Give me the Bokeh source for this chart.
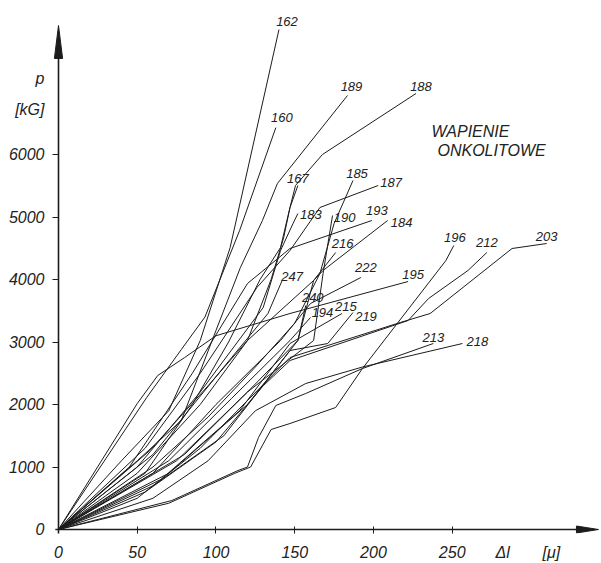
from bokeh.plotting import figure
from bokeh.models import Range1d, FixedTicker
from bokeh.embed import file_html
from bokeh.resources import INLINE
from bokeh.core.properties import value

# ---- data (Δl in μ, p in kG) ----
x162 = [0, 40, 70, 90, 109, 140]
y162 = [0, 1100, 1900, 3024, 4512, 8000]
x160 = [0, 56, 78, 93, 115, 138]
y160 = [0, 2112, 2880, 3400, 4784, 6430]
x189 = [0, 50, 78, 100, 115.5, 129.5, 139, 183.5]
y189 = [0, 1100, 1744, 3184, 4192, 4944, 5536, 6944]
x188 = [0, 55, 85, 108, 128, 141, 147, 150.5, 167.6, 227]
y188 = [0, 900, 2000, 3000, 4000, 4512, 5152, 5504, 6000, 6976]
x167 = [0, 58, 95, 120, 135, 143, 147, 152]
y167 = [0, 1264, 2300, 3024, 4000, 4672, 5152, 5504]
x185 = [0, 60, 95, 125, 150, 166, 175, 187]
y185 = [0, 1000, 1800, 2600, 3300, 4096, 4896, 5584]
x187 = [0, 55, 90, 126, 147, 166, 203]
y187 = [0, 1300, 2500, 3872, 4464, 5152, 5504]
x183 = [0, 50, 90, 130, 141, 149, 152]
y183 = [0, 1000, 2200, 3552, 4464, 4900, 5056]
x190 = [0, 75, 120, 162, 168, 174]
y190 = [0, 1100, 2200, 3024, 4096, 5024]
x193 = [0, 45, 85, 120, 147, 199]
y193 = [0, 1000, 2500, 3936, 4496, 4944]
x184 = [0, 50, 90, 120, 162, 168, 209]
y184 = [0, 900, 2000, 3024, 3984, 4144, 4944]
x216 = [0, 80, 120, 152, 162, 176]
y216 = [0, 1200, 2200, 3024, 3984, 4432]
x247 = [0, 60, 105, 133, 142]
y247 = [0, 1200, 2600, 3456, 3984]
x222 = [0, 60, 100, 141, 160, 192]
y222 = [0, 900, 2000, 3024, 3616, 4032]
x195 = [0, 50, 63, 80, 100, 147, 222]
y195 = [0, 2016, 2464, 2750, 3100, 3456, 3968]
x240 = [0, 70, 120, 152, 157]
y240 = [0, 900, 2000, 3024, 3584]
x194 = [0, 70, 110, 147, 160]
y194 = [0, 1100, 2100, 3024, 3392]
x215 = [0, 65, 115, 147, 180]
y215 = [0, 800, 1900, 2976, 3456]
x219 = [0, 60, 105, 147, 171, 187]
y219 = [0, 700, 1500, 2864, 2976, 3472]
x196 = [0, 70, 112, 122, 135, 147, 176, 193, 246, 251]
y196 = [0, 420, 900, 1000, 1600, 1696, 1952, 2576, 4304, 4544]
x212 = [0, 55, 100, 130, 147, 222, 235, 260, 272]
y212 = [0, 600, 1400, 2300, 2704, 3344, 3696, 4144, 4432]
x203 = [0, 50, 90, 120, 147, 217, 236, 288, 310]
y203 = [0, 500, 1300, 2064, 2752, 3312, 3456, 4496, 4576]
x213 = [0, 72, 114, 120, 127, 138, 157, 193, 238]
y213 = [0, 464, 944, 1000, 1472, 1984, 2176, 2576, 2976]
x218 = [0, 60, 95, 125, 157, 193, 256.5]
y218 = [0, 500, 1100, 1900, 2336, 2600, 2976]

x_ticks = [0, 50, 100, 150, 200, 250]
y_ticks = [0, 1000, 2000, 3000, 4000, 5000, 6000]
x_title = ["Δl", "[μ]"]
y_title = ["p", "[kG]"]

series = [
    ("162", x162, y162), ("160", x160, y160), ("189", x189, y189),
    ("188", x188, y188), ("167", x167, y167), ("185", x185, y185),
    ("187", x187, y187), ("183", x183, y183), ("190", x190, y190),
    ("193", x193, y193), ("184", x184, y184), ("216", x216, y216),
    ("247", x247, y247), ("222", x222, y222), ("195", x195, y195),
    ("240", x240, y240), ("194", x194, y194), ("215", x215, y215),
    ("219", x219, y219), ("196", x196, y196), ("212", x212, y212),
    ("203", x203, y203), ("213", x213, y213), ("218", x218, y218),
]

# label offsets from the line ends, in screen pixels (dx right, dy down)
label_offsets = {
    "162": (8, -8), "160": (6, -10), "189": (4, -9), "188": (5, -7),
    "167": (0, -7), "185": (4, -7), "187": (13, -3), "183": (13, 1),
    "190": (12, 2), "193": (5, -10), "184": (14, 2), "216": (7, -9),
    "247": (10, -4), "222": (5, -10), "195": (5, -7), "196": (1, -8),
    "212": (0, -10), "203": (0, -7), "240": (7, -8), "194": (12, -5),
    "215": (4, -7), "219": (13, 4), "213": (0, -6), "218": (15, -2),
}
# axis-title positions along the axes (layout)
x_title_at = [282, 313]
y_title_at = [7216, 6720]

X0, X1 = -3.81, 344.8
Y0, Y1 = -64, 8384
INK = "#1c1c1c"
TXT = "#222222"
FONT = value("Liberation Sans")

p = figure(width=601, height=563, output_backend="svg", toolbar_location=None,
           x_range=Range1d(X0, X1), y_range=Range1d(Y0, Y1),
           min_border_left=52, min_border_right=0, min_border_top=5,
           min_border_bottom=30)
p.outline_line_color = None
p.grid.grid_line_color = None
p.background_fill_color = "white"
p.border_fill_color = "white"

for ax in (p.xaxis[0], p.yaxis[0]):
    ax.axis_line_color = None
    ax.major_tick_line_color = None
    ax.minor_tick_line_color = INK
    ax.minor_tick_line_width = 1
    ax.major_label_text_font = "Liberation Sans"
    ax.major_label_text_font_style = "italic"
    ax.major_label_text_font_size = "16px"
    ax.major_label_text_color = TXT

# numeric ticks carry the tick marks (as minor ticks); the titles ride along as labels
p.xaxis.ticker = FixedTicker(ticks=x_ticks + x_title_at, minor_ticks=x_ticks[1:])
p.yaxis.ticker = FixedTicker(ticks=y_ticks + y_title_at, minor_ticks=y_ticks[1:])
p.xaxis.major_label_overrides = {k: t for k, t in zip(x_title_at, x_title)}
p.yaxis.major_label_overrides = {k: t for k, t in zip(y_title_at, y_title)}
p.xaxis.minor_tick_in = 7
p.xaxis.minor_tick_out = 0
p.xaxis.major_label_standoff = 4
p.yaxis.minor_tick_in = 6
p.yaxis.minor_tick_out = 0
p.yaxis.major_label_standoff = 2

# axis lines with arrowheads (decoration)
y_tip = 8064
x_tip = 342.9
p.line([0, 0], [-200, y_tip - 400], line_color=INK, line_width=1.6)
p.line([-2, x_tip - 10], [0, 0], line_color=INK, line_width=1.6)
p.patch([-2.6, 0, 2.6], [y_tip - 528, y_tip, y_tip - 528], color=INK)
p.patch([x_tip - 14, x_tip, x_tip - 14], [-56, 0, 56], color=INK)

for name, xs, ys in series:
    p.line(xs, ys, line_color=INK, line_width=1)

p.text(x=[s[1][-1] for s in series], y=[s[2][-1] for s in series],
       text=[s[0] for s in series],
       x_offset=[label_offsets[s[0]][0] for s in series],
       y_offset=[label_offsets[s[0]][1] for s in series],
       text_align="center", text_baseline="middle", text_font=FONT,
       text_font_style="italic", text_font_size="13px", text_color=TXT)

p.text(x=[261.6, 275], y=[6368, 6064], text=["WAPIENIE", "ONKOLITOWE"],
       text_align="center", text_baseline="middle", text_font=FONT,
       text_font_style="italic", text_font_size="16px", text_color=TXT)

open("out.html", "w").write(file_html(p, INLINE))
